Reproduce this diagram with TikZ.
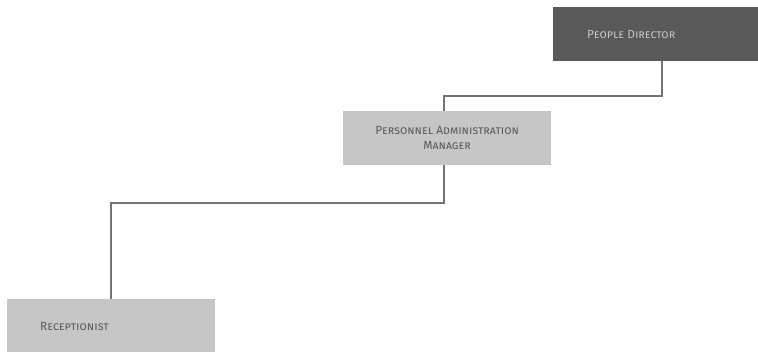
\documentclass[tikz,border=0pt]{standalone}
\usepackage{fontspec}
\setmainfont{Fira Sans}
\begin{document}
\begin{tikzpicture}[x=1pt,y=-1pt,
  txt/.style={font=\fontsize{11.8}{15}\selectfont\scshape, inner sep=0pt},
  box/.style={minimum width=208pt, minimum height=54pt, inner sep=0pt, txt},
  conn/.style={draw=black!55, line width=1.3pt}]
\useasboundingbox (0,0) rectangle (758,352);
\definecolor{dark}{HTML}{595959}
\definecolor{light}{HTML}{C6C6C6}
\node[box, fill=dark, minimum width=205pt, anchor=north west] (pd) at (553,7) {};
\node[txt, text=light, anchor=west] (pdt) at (587,35) {People Director};
\node[box, fill=light, text=black!65, align=center, anchor=north west] (pam) at (343,111) {Personnel Administration\\Manager};
\node[box, fill=light, anchor=north west, minimum height=60pt] (rec) at (7,299) {};
\node[txt, text=black!65, anchor=west] (rect) at (40,326.5) {Receptionist};
\coordinate (a) at (662,61);
\coordinate (b) at (444,111);
\draw[conn] (a) -- (662,96) -- (444,96) -- (b);
\coordinate (c) at (444,165);
\coordinate (d) at (111,299);
\draw[conn] (c) -- (444,203) -- (111,203) -- (d);
\end{tikzpicture}
\end{document}
